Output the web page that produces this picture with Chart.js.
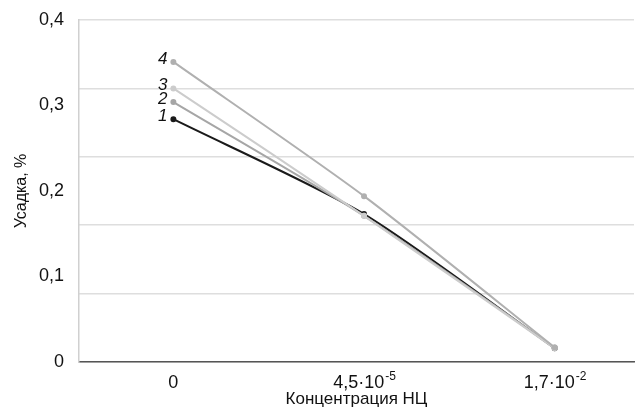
<!DOCTYPE html>
<html>
<head>
<meta charset="utf-8">
<script src="https://cdn.jsdelivr.net/npm/chart.js@4"></script>
<style>
  html, body { margin: 0; padding: 0; background: #fff; }
  #wrap { position: relative; width: 638px; height: 412px; }
</style>
</head>
<body>
<div id="wrap"><canvas id="chart"></canvas></div>
<script>
// tick text: base and power of ten
const categories = ["0", "4,5·10^-5", "1,7·10^-2"];
const series1 = [0.284, 0.173, 0.016];
const series2 = [0.304, 0.171, 0.017];
const series3 = [0.320, 0.171, 0.016];
const series4 = [0.351, 0.194, 0.017];
const seriesNames = ["1", "2", "3", "4"];
const yTicks = [0, 0.1, 0.2, 0.3, 0.4];

const colors = ["#1a1a1a", "#a6a6a6", "#cccccc", "#b0b0b0"];
const allSeries = [series1, series2, series3, series4];
const FONT = "'Liberation Sans', Arial, sans-serif";

// numbers next to the first point of each line
const seriesLabels = {
  id: "seriesLabels",
  afterDatasetsDraw(chart) {
    const ctx = chart.ctx;
    ctx.save();
    ctx.font = "italic 17px " + FONT;
    ctx.fillStyle = "#111";
    ctx.textAlign = "right";
    ctx.textBaseline = "middle";
    chart.data.datasets.forEach((ds, i) => {
      const pt = chart.getDatasetMeta(i).data[0];
      ctx.fillText(seriesNames[i], pt.x - 6, pt.y - 3);
    });
    ctx.restore();
  }
};

// x tick labels with a raised exponent
const xTickLabels = {
  id: "xTickLabels",
  afterDraw(chart) {
    const ctx = chart.ctx;
    const xs = chart.scales.x;
    const yBase = xs.top + 26;
    ctx.save();
    ctx.fillStyle = "#111";
    ctx.textBaseline = "alphabetic";
    ctx.textAlign = "left";
    categories.forEach((c, k) => {
      const [base, exp] = c.split("^");
      ctx.font = "18px " + FONT;
      const wb = ctx.measureText(base).width;
      ctx.font = "12px " + FONT;
      const we = exp ? ctx.measureText(exp).width : 0;
      let x = xs.getPixelForValue(k) - (wb + we) / 2;
      ctx.font = "18px " + FONT;
      ctx.fillText(base, x, yBase);
      if (exp) {
        ctx.font = "12px " + FONT;
        ctx.fillText(exp, x + wb + 1, yBase - 8);
      }
    });
    ctx.restore();
  }
};

new Chart(document.getElementById("chart"), {
  type: "line",
  data: {
    datasets: allSeries.map((s, i) => ({
      label: seriesNames[i],
      data: s.map((v, k) => ({ x: k, y: v })),
      borderColor: colors[i],
      backgroundColor: colors[i],
      borderWidth: 2,
      pointRadius: 2,
      pointHoverRadius: 2,
      tension: 0.25,
      order: allSeries.length - i
    }))
  },
  options: {
    responsive: true,
    maintainAspectRatio: false,
    animation: false,
    layout: { padding: { top: 20, right: 0, left: 0, bottom: 0 } },
    plugins: { legend: { display: false }, tooltip: { enabled: false } },
    scales: {
      x: {
        type: "linear",
        min: -0.495,
        max: 2.416,
        afterBuildTicks(scale) {
          scale.ticks = categories.map((c, k) => ({ value: k }));
        },
        afterFit(scale) { scale.height = 50; },
        grid: { display: false },
        border: { color: "#555", width: 1.5 },
        ticks: { display: false },
        title: {
          display: true,
          text: "Концентрация НЦ",
          color: "#111",
          font: { family: FONT, size: 17 },
          padding: { top: 0, bottom: 2 }
        }
      },
      y: {
        position: "left",
        min: 0,
        max: 0.4,
        afterBuildTicks(scale) {
          scale.ticks = yTicks.map(v => ({ value: v }));
        },
        afterFit(scale) { scale.width = 79; },
        grid: { display: false },
        border: { color: "#d0d0d0", width: 1.5 },
        ticks: {
          callback: (v) => v === 0 ? "0" : v.toFixed(1).replace(".", ","),
          color: "#111",
          font: { family: FONT, size: 18 },
          padding: 7
        },
        title: {
          display: true,
          text: "Усадка, %",
          color: "#111",
          font: { family: FONT, size: 16 },
          padding: { top: 12, bottom: 0 }
        }
      },
      yGrid: {
        position: "left",
        min: 0,
        max: 0.4,
        afterFit(scale) { scale.width = 0; },
        ticks: { display: false, stepSize: 0.08 },
        border: { display: false },
        grid: { color: "#dedede", lineWidth: 1.5, drawTicks: false }
      }
    }
  },
  plugins: [seriesLabels, xTickLabels]
});
</script>
</body>
</html>
